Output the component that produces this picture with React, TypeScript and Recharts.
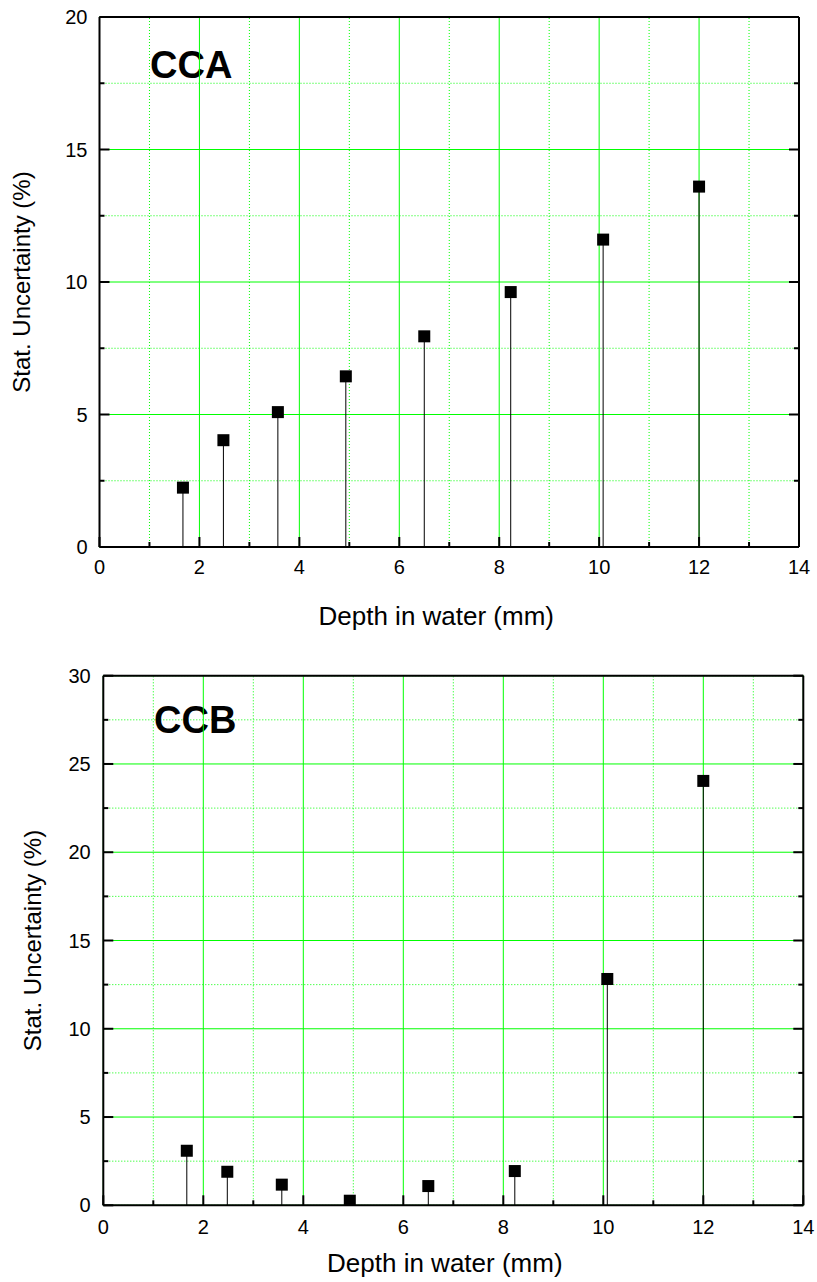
import React from 'react'
import { ScatterChart, Scatter, XAxis, YAxis, CartesianGrid, ErrorBar, Label, ReferenceLine } from 'recharts'

// depth of each measurement (mm)
const depth = [1.67, 2.48, 3.57, 4.93, 6.5, 8.23, 10.08, 12.0]
// statistical uncertainty (%)
const ccaValues = [2.24, 4.03, 5.09, 6.44, 7.95, 9.62, 11.6, 13.6]
const ccbValues = [3.09, 1.9, 1.17, 0.26, 1.09, 1.94, 12.82, 24.04]

const xMajor = [0, 2, 4, 6, 8, 10, 12, 14]
const xMinor = [1, 3, 5, 7, 9, 11, 13]
const ccaYMajor = [0, 5, 10, 15, 20]
const ccaYMinor = [2.5, 7.5, 12.5, 17.5]
const ccbYMajor = [0, 5, 10, 15, 20, 25, 30]
const ccbYMinor = [2.5, 7.5, 12.5, 17.5, 22.5, 27.5]

const xTitle = 'Depth in water (mm)'
const yTitle = 'Stat. Uncertainty (%)'

const FONT = '"Liberation Sans", Arial, sans-serif'
const frame = { stroke: '#000', strokeWidth: 2 }
const MAJOR_LEN = 10
const MINOR_LEN = 5

const allTicks = (a: number[], b: number[]) => [...a, ...b].sort((m, n) => m - n)
const noLabel = () => <g />

type PanelProps = {
  name: string
  values: number[]
  yMax: number
  yMajor: number[]
  yMinor: number[]
  height: number
  margin: { top: number; right: number; bottom: number; left: number }
  yAxisWidth: number
  xTickGap: number
  yTickGap: number
  xTitleDx: number
  xTitleDy: number
  yTitleX: number
  nameX: number
  nameY: number
}

const Panel = (p: PanelProps) => {
  const data = depth.map((d, i) => ({ depth: d, value: p.values[i], stem: [p.values[i], 0] }))
  const xDomain: [number, number] = [0, 14]
  const yDomain: [number, number] = [0, p.yMax]
  const isMajorX = (v: number) => xMajor.includes(v)
  const isMajorY = (v: number) => p.yMajor.includes(v)

  const renderXTitle = (props: any) => {
    const vb = props.viewBox
    return (
      <text x={vb.x + vb.width / 2 + p.xTitleDx} y={vb.y + p.xTitleDy} textAnchor="middle" fontSize={26} fill="#000" fontFamily={FONT}>
        {xTitle}
      </text>
    )
  }
  const renderYTitle = (props: any) => {
    const vb = props.viewBox
    const cx = vb.x + p.yTitleX
    const cy = vb.y + vb.height / 2
    return (
      <text x={cx} y={cy} textAnchor="middle" fontSize={24} fill="#000" fontFamily={FONT} transform={`rotate(-90 ${cx} ${cy})`}>
        {yTitle}
      </text>
    )
  }

  // ticks point into the plot; labels only on the major values
  const bottomTick = (t: any) => {
    const v = t.payload.value
    const major = isMajorX(v)
    return (
      <g>
        <line x1={t.x} x2={t.x} y1={t.y} y2={t.y - (major ? MAJOR_LEN : MINOR_LEN)} {...frame} />
        {major && (
          <text x={t.x} y={t.y + p.xTickGap} dy="0.71em" textAnchor="middle" fontSize={20} fill="#000" fontFamily={FONT}>{v}</text>
        )}
      </g>
    )
  }
  const topTick = (t: any) => {
    const major = isMajorX(t.payload.value)
    return <line x1={t.x} x2={t.x} y1={t.y} y2={t.y + (major ? MAJOR_LEN : MINOR_LEN)} {...frame} />
  }
  const leftTick = (t: any) => {
    const v = t.payload.value
    const major = isMajorY(v)
    return (
      <g>
        <line x1={t.x} x2={t.x + (major ? MAJOR_LEN : MINOR_LEN)} y1={t.y} y2={t.y} {...frame} />
        {major && (
          <text x={t.x - p.yTickGap} y={t.y} dy="0.355em" textAnchor="end" fontSize={20} fill="#000" fontFamily={FONT}>{v}</text>
        )}
      </g>
    )
  }
  const rightTick = (t: any) => {
    const major = isMajorY(t.payload.value)
    return <line x1={t.x} x2={t.x - (major ? MAJOR_LEN : MINOR_LEN)} y1={t.y} y2={t.y} {...frame} />
  }

  const xTicksAll = allTicks(xMajor, xMinor)
  const yTicksAll = allTicks(p.yMajor, p.yMinor)

  return (
    <ScatterChart width={817} height={p.height} margin={p.margin}>
      {/* horizontal grid from zero-size helper axes */}
      <CartesianGrid xAxisId="x" yAxisId="ym" stroke="#00ff00" strokeDasharray="1 2" vertical={false} />
      <CartesianGrid xAxisId="x" yAxisId="yg" stroke="#00ff00" vertical={false} />
      <YAxis yAxisId="yg" type="number" domain={yDomain} ticks={p.yMajor} interval={0} allowDataOverflow mirror width={0} tick={noLabel} />
      <YAxis yAxisId="ym" type="number" domain={yDomain} ticks={p.yMinor} interval={0} allowDataOverflow mirror width={0} tick={noLabel} />

      {/* vertical grid */}
      {xMinor.map((v) => (
        <ReferenceLine key={`m${v}`} xAxisId="x" yAxisId="y" x={v} stroke="#00ff00" strokeDasharray="1 2" />
      ))}
      {xMajor.map((v) => (
        <ReferenceLine key={`M${v}`} xAxisId="x" yAxisId="y" x={v} stroke="#00ff00" />
      ))}

      <XAxis xAxisId="x" dataKey="depth" type="number" domain={xDomain} ticks={xTicksAll} interval={0} allowDataOverflow
        height={60} axisLine={frame} tickLine={false} tickSize={0} tickMargin={0} tick={bottomTick}>
        <Label content={renderXTitle} />
      </XAxis>
      <XAxis xAxisId="xTop" orientation="top" type="number" domain={xDomain} ticks={xTicksAll} interval={0} allowDataOverflow
        height={1} axisLine={frame} tickLine={false} tickSize={0} tickMargin={0} tick={topTick} />

      <YAxis yAxisId="y" dataKey="value" type="number" domain={yDomain} ticks={yTicksAll} interval={0} allowDataOverflow
        width={p.yAxisWidth} axisLine={frame} tickLine={false} tickSize={0} tickMargin={0} tick={leftTick}>
        <Label content={renderYTitle} />
      </YAxis>
      <YAxis yAxisId="yRight" orientation="right" type="number" domain={yDomain} ticks={yTicksAll} interval={0} allowDataOverflow
        width={1} axisLine={frame} tickLine={false} tickSize={0} tickMargin={0} tick={rightTick} />

      <Scatter
        xAxisId="x"
        yAxisId="y"
        data={data}
        dataKey="value"
        isAnimationActive={false}
        shape={(s: any) => <rect x={s.cx - 6} y={s.cy - 6} width={12} height={12} fill="#000" />}
      >
        <ErrorBar dataKey="stem" direction="y" width={0} stroke="#000" strokeWidth={1} isAnimationActive={false} />
      </Scatter>

      <text x={p.nameX} y={p.nameY} fontSize={38} fontWeight="bold" fill="#000" fontFamily={FONT}>
        {p.name}
      </text>
    </ScatterChart>
  )
}

export default function App() {
  return (
    <div style={{ position: 'absolute', left: 0, top: 0, width: 817, height: 1282, background: '#fff', fontFamily: FONT }}>
      <Panel
        name="CCA"
        values={ccaValues}
        yMax={20}
        yMajor={ccaYMajor}
        yMinor={ccaYMinor}
        height={640}
        margin={{ top: 16, right: 17, bottom: 33, left: 0 }}
        yAxisWidth={99.5}
        xTickGap={13}
        yTickGap={12}
        xTitleDx={-13}
        xTitleDy={78}
        yTitleX={29.5}
        nameX={150}
        nameY={78.3}
      />
      <Panel
        name="CCB"
        values={ccbValues}
        yMax={30}
        yMajor={ccbYMajor}
        yMinor={ccbYMinor}
        height={642}
        margin={{ top: 34.7, right: 12.7, bottom: 16.7, left: 0 }}
        yAxisWidth={103.3}
        xTickGap={14}
        yTickGap={12.6}
        xTitleDx={-8.5}
        xTitleDy={66.5}
        yTitleX={41}
        nameX={154}
        nameY={92.7}
      />
    </div>
  )
}
